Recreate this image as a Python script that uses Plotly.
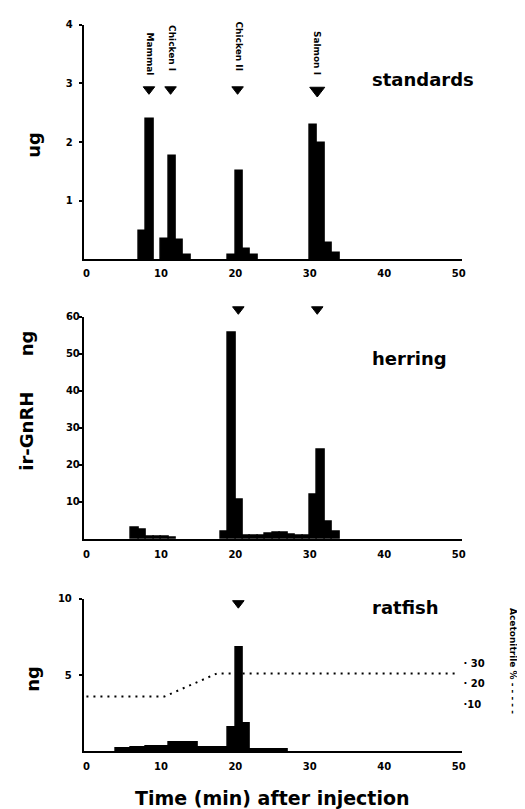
import plotly.graph_objects as go

# ---- data ----
std_x = [7.5, 8.5, 10.5, 11.5, 12.5, 13.5, 19.5, 20.5, 21.5, 22.5, 30.5, 31.5, 32.5, 33.5]
std_y = [0.48, 2.40, 0.35, 1.77, 0.33, 0.08, 0.08, 1.50, 0.17, 0.08, 2.29, 1.99, 0.27, 0.11]
std_marker_x = [8.4, 11.3, 20.3, 31.0]
std_marker_y = [2.9, 2.9, 2.9, 2.88]
std_names = ["Mammal", "Chicken I", "Chicken II", "Salmon I"]
std_name_x = [8.5, 11.4, 20.5, 30.9]
std_name_y = [3.5, 3.6, 3.63, 3.53]

her_x = [6.5, 7.5, 8.5, 9.5, 10.5, 11.5, 18.5, 19.5, 20.5, 21.5, 22.5, 23.5,
         24.5, 25.5, 26.5, 27.5, 28.5, 29.5, 30.5, 31.5, 32.5, 33.5]
her_y = [3.1, 2.5, 0.6, 0.5, 0.5, 0.4, 2.0, 55.7, 10.5, 1.0, 0.8, 0.8,
         1.5, 1.8, 1.8, 1.2, 1.0, 1.0, 12.0, 24.2, 4.6, 2.0]
her_marker_x = [20.4, 31.0]
her_marker_y = [62, 62]

rat_x = [4.5, 5.5, 6.5, 7.5, 8.5, 9.5, 10.5, 11.5, 12.5, 13.5, 14.5, 15.5, 16.5,
         17.5, 18.5, 19.5, 20.5, 21.5, 22.5, 23.5, 24.5, 25.5, 26.5]
rat_y = [0.17, 0.17, 0.28, 0.28, 0.35, 0.35, 0.35, 0.55, 0.55, 0.6, 0.6, 0.22, 0.22,
         0.22, 0.22, 1.54, 6.8, 1.8, 0.15, 0.15, 0.15, 0.15, 0.15]
rat_marker_x = [20.4]
rat_marker_y = [9.7]

grad_x = [0, 10.5, 17.5, 50]
grad_y = [14, 14, 25, 25]

x_ticks = [0, 10, 20, 30, 40, 50]

FONT = "DejaVu Sans"
OFF = 8                 # page body margin
W, H = 525 - OFF, 809 - OFF

def fx(rx):
    return (rx - OFF) / W

def fy(ry):
    return 1 - (ry - OFF) / H

fig = go.Figure()

def bars(x, y, xa, ya):
    fig.add_trace(go.Bar(x=x, y=y, width=1.0,
                         marker=dict(color="black", line=dict(color="black", width=1.5)),
                         xaxis=xa, yaxis=ya, showlegend=False, hoverinfo="skip"))

def tri(x, y, xa, ya, size):
    fig.add_trace(go.Scatter(x=x, y=y, mode="markers", xaxis=xa, yaxis=ya,
                             marker=dict(symbol="triangle-down", size=size, color="#000000",
                                         opacity=1, line=dict(color="#000000", width=1)),
                             showlegend=False, hoverinfo="skip"))

bars(std_x, std_y, "x", "y")
bars(her_x, her_y, "x2", "y2")
bars(rat_x, rat_y, "x3", "y3")
fig.add_trace(go.Scatter(x=grad_x, y=grad_y, mode="lines", xaxis="x3", yaxis="y4",
                         line=dict(color="black", width=2, dash="2px,5px"),
                         showlegend=False, hoverinfo="skip"))
tri(std_marker_x, std_marker_y, "x", "y5", [10, 10, 10, 13])
tri(her_marker_x, her_marker_y, "x2", "y6", 10)
tri(rat_marker_x, rat_marker_y, "x3", "y7", 10)

xdom = [fx(83.4), fx(465)]
xr = [-0.35, 50.5]
tickfont = dict(family=FONT, size=10, color="black", weight="bold")

def xaxis(anchor, standoff):
    return dict(domain=xdom, range=xr, anchor=anchor, tickvals=x_ticks, showline=True,
                linecolor="black", linewidth=2, showgrid=False, zeroline=False,
                ticks="", tickfont=tickfont, ticklabelstandoff=standoff, fixedrange=True)

def yaxis(anchor, bottom_px, top_px, rng, tv, standoff):
    return dict(domain=[fy(bottom_px), fy(top_px)], range=rng, anchor=anchor, tickvals=tv,
                showline=True, linecolor="black", linewidth=2, showgrid=False, zeroline=False,
                ticks="outside", ticklen=3, tickwidth=2, tickcolor="black", tickfont=tickfont,
                ticklabelstandoff=standoff, fixedrange=True)

def marker_axis(anchor, bottom_px, top_px, rng, extra_top_px):
    # invisible axis with the same scale as the panel, extended upwards for the arrows
    scale = (rng[1] - rng[0]) / (bottom_px - top_px)
    return dict(domain=[fy(bottom_px), fy(top_px - extra_top_px)],
                range=[rng[0], rng[1] + extra_top_px * scale], anchor=anchor, visible=False,
                fixedrange=True)

fig.update_layout(
    width=W, height=H, autosize=False,
    margin=dict(l=0, r=0, t=0, b=0),
    paper_bgcolor="white", plot_bgcolor="rgba(0,0,0,0)",
    bargap=0,
    font=dict(family=FONT, color="black"),
    xaxis=xaxis("y", 4),
    yaxis=yaxis("x", 255, 19, [0, 4], [1, 2, 3, 4], 4),
    xaxis2=xaxis("y2", 5),
    yaxis2=yaxis("x2", 537, 313, [0, 60], [10, 20, 30, 40, 50, 60], -3),
    xaxis3=xaxis("y3", 5),
    yaxis3=yaxis("x3", 751, 597, [0, 10], [5, 10], 5),
    yaxis4=dict(domain=[fy(751), fy(597)], range=[-12.4, 61], overlaying="y3", anchor="x3",
                side="right", tickvals=[10, 20, 30], ticktext=["·10", "· 20", "· 30"],
                showline=False, showgrid=False, zeroline=False, ticks="", tickfont=tickfont,
                fixedrange=True),
    yaxis5=marker_axis("x", 255, 19, [0, 4], 0),
    yaxis6=marker_axis("x2", 537, 313, [0, 60], 16),
    yaxis7=marker_axis("x3", 751, 597, [0, 10], 0),
)

ann = []
for name, x, y in zip(std_names, std_name_x, std_name_y):
    ann.append(dict(text=name, x=x, y=y, xref="x", yref="y", textangle=90, showarrow=False,
                    xanchor="center", yanchor="middle",
                    font=dict(family=FONT, size=9, color="black", weight="bold")))

title_font = dict(family=FONT, size=18, color="black", weight="bold")
for t, ry in [("standards", 74), ("herring", 355), ("ratfish", 606)]:
    ann.append(dict(text=t, x=fx(372), y=fy(ry), xref="paper", yref="paper", xanchor="left",
                    yanchor="middle", showarrow=False, font=title_font))

lab_font = dict(family=FONT, size=18, color="black", weight="bold")
for t, rx, ry in [("ug", 32, 140), ("ng", 26, 340), ("ir-GnRH", 26, 428), ("ng", 32, 678)]:
    ann.append(dict(text=t, x=fx(rx), y=fy(ry), xref="paper", yref="paper", textangle=-90,
                    xanchor="center", yanchor="middle", showarrow=False, font=lab_font))
ann.append(dict(text="Time (min) after injection", x=fx(274), y=fy(798), xref="paper",
                yref="paper", xanchor="center", yanchor="middle", showarrow=False,
                font=dict(family=FONT, size=19, color="black", weight="bold")))
ann.append(dict(text="Acetonitrile % - - - - -", x=fx(516), y=fy(660), xref="paper", yref="paper",
                textangle=90, xanchor="center", yanchor="middle", showarrow=False,
                font=dict(family=FONT, size=9, color="black", weight="bold")))
fig.update_layout(annotations=ann)

fig.write_html("out.html")
